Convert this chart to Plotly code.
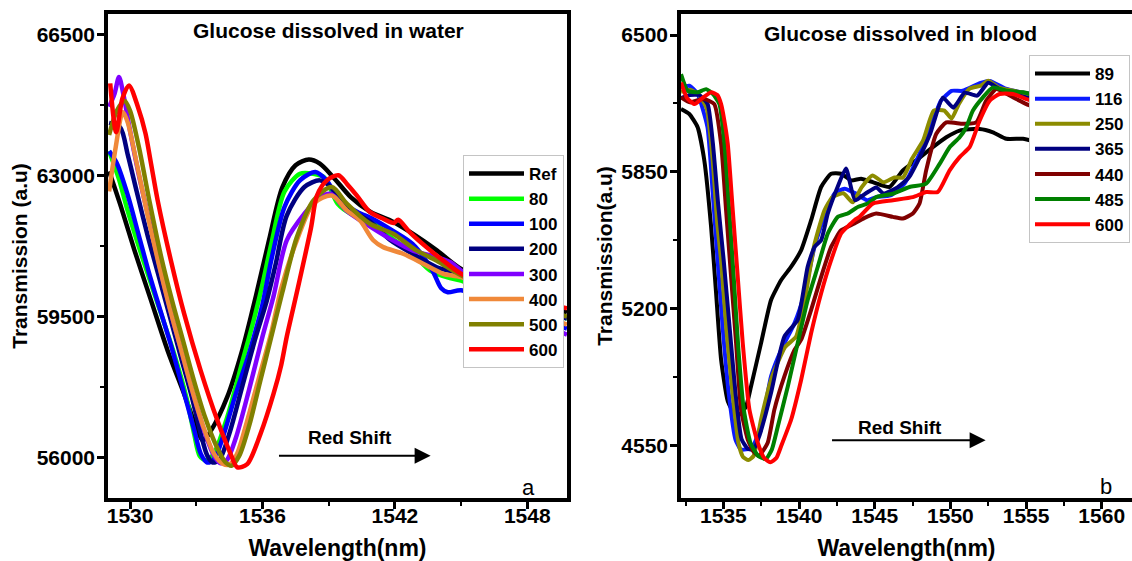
import plotly.graph_objects as go

# ---------------- Panel a: glucose dissolved in water ----------------
w_names = ["Ref", "80", "100", "200", "300", "400", "500", "600"]
w_colors = ["#000000", "#00ff00", "#0000ff", "#000080", "#8000ff", "#f0893a", "#808000", "#ff0000"]

w_ref_x = [1529.05, 1529.6, 1530.2, 1530.95, 1531.7, 1532.45, 1533.0, 1533.3, 1533.7, 1534.4, 1535.1, 1535.7, 1536.3, 1536.9, 1537.5, 1538.1, 1538.6, 1539.2, 1540.0, 1540.9, 1541.8, 1542.7, 1543.9, 1545.0, 1546.5, 1548.0, 1549.8]
w_ref_y = [63100, 62200, 61140, 59900, 58660, 57580, 56750, 56420, 56700, 57500, 58700, 60000, 61400, 62700, 63250, 63390, 63290, 62960, 62460, 62090, 61880, 61590, 61140, 60680, 60300, 59950, 59600]

w_80_x = [1529.05, 1529.5, 1529.85, 1530.45, 1531.2, 1531.95, 1532.55, 1532.9, 1533.15, 1533.45, 1533.8, 1534.4, 1535.1, 1535.6, 1536.0, 1536.4, 1537.0, 1537.7, 1538.3, 1538.8, 1539.4, 1540.0, 1540.9, 1541.8, 1542.8, 1543.6, 1544.5, 1545.0, 1546.5, 1548.0, 1549.8]
w_80_y = [63600, 62900, 62200, 61140, 59900, 58660, 57500, 56600, 56050, 55930, 56100, 57000, 58400, 59400, 60300, 61300, 62600, 63040, 63040, 62950, 62300, 62050, 61880, 61470, 61060, 60640, 60450, 60390, 60050, 59750, 59450]

w_100_x = [1529.05, 1529.4, 1529.9, 1530.4, 1530.9, 1531.4, 1531.9, 1532.4, 1532.9, 1533.2, 1533.5, 1533.8, 1534.2, 1534.8, 1535.4, 1536.0, 1536.4, 1537.0, 1537.7, 1538.4, 1538.9, 1539.5, 1540.3, 1541.0, 1541.9, 1542.8, 1543.7, 1544.1, 1544.4, 1545.0, 1546.5, 1548.0, 1549.8]
w_100_y = [63600, 63300, 62500, 61500, 60500, 59600, 58700, 57700, 56700, 56100, 55880, 55950, 56500, 57600, 58600, 59800, 60900, 62220, 62875, 63080, 62875, 62380, 62090, 61920, 61630, 61300, 60640, 60200, 60100, 60150, 59850, 59550, 59200]

w_200_x = [1529.05, 1529.55, 1529.9, 1530.3, 1530.8, 1531.3, 1531.8, 1532.3, 1532.8, 1533.2, 1533.5, 1533.75, 1534.05, 1534.5, 1535.1, 1535.7, 1536.2, 1536.6, 1537.1, 1537.9, 1538.6, 1539.1, 1539.8, 1540.9, 1541.8, 1542.8, 1543.9, 1545.0, 1546.5, 1548.0, 1549.8]
w_200_y = [64300, 64190, 63500, 62600, 61500, 60500, 59500, 58500, 57500, 56600, 56050, 55880, 55950, 56600, 57800, 59000, 59900, 60800, 62000, 62710, 62875, 62710, 62220, 61840, 61390, 61055, 60720, 60560, 60200, 59800, 59450]

w_300_x = [1529.05, 1529.3, 1529.5, 1529.7, 1530.0, 1530.4, 1530.9, 1531.4, 1531.9, 1532.4, 1532.9, 1533.4, 1533.8, 1534.1, 1534.4, 1534.8, 1535.4, 1536.0, 1536.5, 1537.1, 1537.9, 1538.6, 1539.1, 1539.8, 1540.9, 1541.9, 1542.8, 1543.9, 1544.5, 1545.0, 1546.5, 1548.0, 1549.8]
w_300_y = [64700, 65030, 65440, 65000, 64100, 63000, 61800, 60600, 59500, 58500, 57500, 56600, 56050, 55860, 55950, 56500, 57700, 59000, 60000, 61390, 62050, 62460, 62540, 62130, 61720, 61390, 61140, 60970, 60850, 60640, 60000, 59500, 59050]

w_400_x = [1529.05, 1529.35, 1529.67, 1529.9, 1530.3, 1530.8, 1531.3, 1531.8, 1532.3, 1532.8, 1533.3, 1533.8, 1534.2, 1534.5, 1534.85, 1535.3, 1535.9, 1536.4, 1536.85, 1537.56, 1538.31, 1539.14, 1539.82, 1540.42, 1541.02, 1541.47, 1542.37, 1543.28, 1544.18, 1545.0, 1546.5, 1548.0, 1549.8]
w_400_y = [62600, 63700, 64570, 64300, 63300, 62000, 60800, 59700, 58700, 57700, 56800, 56100, 55850, 55830, 56100, 56900, 58100, 59100, 60200, 61390, 62300, 62500, 62130, 61880, 61390, 61220, 61055, 60810, 60560, 60475, 60100, 59700, 59300]

w_500_x = [1529.05, 1529.4, 1529.75, 1530.0, 1530.4, 1530.9, 1531.4, 1531.9, 1532.4, 1532.9, 1533.4, 1533.9, 1534.3, 1534.6, 1534.95, 1535.4, 1535.9, 1536.4, 1536.9, 1537.56, 1538.31, 1539.14, 1539.82, 1540.87, 1541.92, 1542.97, 1543.88, 1545.0, 1546.5, 1548.0, 1549.8]
w_500_y = [64000, 64600, 64850, 64600, 63700, 62300, 61000, 59900, 58900, 57900, 57000, 56300, 55900, 55800, 56050, 56800, 57900, 59000, 60100, 61470, 62380, 62710, 62300, 61800, 61550, 61140, 60890, 60520, 60150, 59800, 59500]

w_600_x = [1529.1, 1529.37, 1529.65, 1529.95, 1530.36, 1530.7, 1530.95, 1531.25, 1531.85, 1532.45, 1533.2, 1533.96, 1534.56, 1534.86, 1535.31, 1535.91, 1536.5, 1536.85, 1537.1, 1537.6, 1538.2, 1538.47, 1538.92, 1539.44, 1539.82, 1540.27, 1540.87, 1541.47, 1541.95, 1542.15, 1542.67, 1543.43, 1544.18, 1545.0, 1546.5, 1548.0, 1549.8]
w_600_y = [65280, 64070, 64900, 65230, 64690, 64040, 63290, 62380, 60890, 59570, 58160, 56920, 56090, 55760, 55840, 56590, 57580, 58300, 59000, 60200, 61700, 62500, 62875, 63000, 62793, 62503, 62089, 61924, 61820, 61900, 61593, 61220, 60890, 60560, 60200, 59950, 59700]

w_xs = [w_ref_x, w_80_x, w_100_x, w_200_x, w_300_x, w_400_x, w_500_x, w_600_x]
w_ys = [w_ref_y, w_80_y, w_100_y, w_200_y, w_300_y, w_400_y, w_500_y, w_600_y]

# ---------------- Panel b: glucose dissolved in blood ----------------
b_names = ["89", "116", "250", "365", "440", "485", "600"]
b_colors = ["#000000", "#0a1aff", "#8c8c00", "#000080", "#800000", "#008000", "#ff0000"]

b_89_x = [1532.2, 1532.75, 1533.3, 1533.74, 1534.19, 1534.52, 1534.85, 1535.29, 1535.7, 1536.1, 1536.5, 1536.83, 1537.49, 1538.15, 1538.82, 1539.48, 1540.14, 1540.8, 1541.46, 1542.12, 1542.78, 1543.45, 1544.1, 1544.87, 1545.98, 1546.86, 1547.74, 1548.84, 1549.73, 1550.61, 1551.93, 1552.81, 1553.7, 1554.8, 1555.5]
b_89_y = [6149, 6125, 6062, 5904, 5588, 5273, 4957, 4760, 4705, 4700, 4735, 4831, 5036, 5241, 5336, 5399, 5478, 5620, 5778, 5841, 5841, 5809, 5817, 5801, 5778, 5857, 5904, 5967, 6014, 6046, 6054, 6038, 6007, 6007, 5995]

b_116_x = [1532.2, 1532.75, 1533.3, 1533.95, 1534.3, 1534.62, 1534.95, 1535.35, 1535.8, 1536.15, 1536.5, 1536.9, 1537.4, 1537.8, 1538.15, 1538.82, 1539.7, 1540.36, 1541.02, 1541.68, 1542.34, 1543.0, 1543.78, 1544.5, 1545.09, 1546.04, 1546.97, 1547.96, 1548.67, 1549.38, 1550.08, 1550.8, 1552.0, 1552.6, 1553.65, 1554.87, 1555.5]
b_116_y = [6251, 6259, 6220, 6062, 5746, 5430, 5115, 4800, 4578, 4531, 4531, 4540, 4630, 4750, 4878, 5004, 5131, 5273, 5493, 5636, 5746, 5770, 5746, 5715, 5730, 5738, 5794, 5936, 6059, 6188, 6235, 6235, 6273, 6282, 6245, 6226, 6220]

b_250_x = [1532.2, 1532.8, 1533.4, 1533.9, 1534.3, 1534.6, 1534.85, 1535.2, 1535.6, 1536.0, 1536.3, 1536.65, 1537.0, 1537.49, 1538.15, 1538.4, 1539.1, 1539.8, 1540.4, 1541.0, 1541.68, 1542.2, 1542.93, 1543.55, 1544.13, 1544.85, 1545.58, 1546.3, 1546.87, 1547.47, 1548.2, 1548.9, 1549.6, 1550.08, 1550.57, 1551.27, 1552.0, 1552.5, 1553.2, 1554.15, 1555.1, 1555.5]
b_250_y = [6230, 6240, 6215, 6150, 5900, 5600, 5430, 5100, 4800, 4560, 4495, 4480, 4500, 4673, 4862, 4910, 5019, 5066, 5250, 5500, 5667, 5729, 5748, 5705, 5776, 5833, 5800, 5823, 5823, 5913, 5999, 6141, 6141, 6103, 6174, 6245, 6259, 6283, 6250, 6235, 6221, 6215]

b_365_x = [1532.2, 1532.8, 1533.4, 1533.96, 1534.3, 1534.65, 1535.02, 1535.4, 1535.8, 1536.2, 1536.6, 1537.0, 1537.4, 1537.8, 1538.15, 1539.03, 1539.91, 1540.57, 1541.02, 1541.46, 1541.9, 1542.56, 1543.1, 1543.7, 1544.4, 1545.1, 1545.58, 1546.5, 1547.25, 1547.96, 1548.67, 1549.5, 1550.2, 1550.94, 1551.77, 1552.5, 1553.2, 1554.15, 1555.1, 1555.5]
b_365_y = [6200, 6215, 6215, 6172, 5990, 5700, 5430, 5120, 4800, 4580, 4535, 4530, 4600, 4700, 4800, 5067, 5146, 5399, 5493, 5525, 5652, 5780, 5866, 5715, 5747, 5776, 5747, 5776, 5823, 5918, 6032, 6202, 6155, 6226, 6212, 6273, 6245, 6221, 6202, 6195]

b_440_x = [1532.2, 1532.8, 1533.3, 1533.74, 1534.4, 1534.85, 1535.18, 1535.51, 1535.84, 1536.17, 1536.61, 1537.0, 1537.35, 1537.93, 1538.37, 1539.03, 1539.7, 1540.14, 1540.8, 1541.46, 1542.12, 1542.78, 1543.66, 1544.3, 1545.1, 1546.2, 1546.86, 1547.52, 1547.96, 1548.4, 1549.07, 1549.73, 1550.83, 1551.71, 1552.37, 1553.03, 1554.13, 1555.02, 1555.5]
b_440_y = [6204, 6180, 6190, 6196, 6172, 5983, 5667, 5351, 5036, 4720, 4578, 4520, 4500, 4563, 4720, 4878, 5004, 5052, 5194, 5351, 5493, 5572, 5604, 5630, 5652, 5636, 5628, 5652, 5699, 5857, 6031, 6085, 6078, 6085, 6188, 6243, 6204, 6172, 6160]

b_485_x = [1532.2, 1532.64, 1533.3, 1533.86, 1534.3, 1534.74, 1535.07, 1535.4, 1535.7, 1536.0, 1536.35, 1536.8, 1537.3, 1537.8, 1538.2, 1538.6, 1539.26, 1539.91, 1540.57, 1541.24, 1541.9, 1542.56, 1543.22, 1543.88, 1544.54, 1545.1, 1546.2, 1547.3, 1548.4, 1549.29, 1549.95, 1550.61, 1551.05, 1551.49, 1552.15, 1552.81, 1553.7, 1554.8, 1555.5]
b_485_y = [6314, 6235, 6228, 6243, 6220, 6172, 5983, 5650, 5330, 5000, 4720, 4560, 4500, 4485, 4530, 4641, 4831, 5036, 5241, 5399, 5557, 5636, 5652, 5683, 5699, 5730, 5746, 5778, 5794, 5888, 5967, 6014, 6062, 6141, 6204, 6251, 6235, 6228, 6215]

b_600_x = [1532.2, 1532.6, 1533.1, 1533.6, 1534.19, 1534.6, 1534.85, 1535.05, 1535.29, 1535.62, 1535.95, 1536.28, 1536.72, 1537.27, 1537.7, 1538.1, 1538.5, 1538.82, 1539.48, 1540.14, 1540.8, 1541.46, 1542.12, 1542.78, 1543.66, 1544.0, 1544.87, 1546.2, 1547.52, 1548.4, 1549.17, 1549.95, 1550.61, 1551.27, 1551.93, 1552.6, 1553.25, 1554.13, 1555.02, 1555.5]
b_600_y = [6275, 6200, 6172, 6200, 6228, 6215, 6172, 6100, 5983, 5667, 5351, 5036, 4720, 4563, 4490, 4470, 4490, 4547, 4673, 4862, 5084, 5273, 5430, 5557, 5620, 5636, 5699, 5715, 5730, 5754, 5754, 5857, 5920, 5967, 6093, 6188, 6220, 6220, 6196, 6185]

b_xs = [b_89_x, b_116_x, b_250_x, b_365_x, b_440_x, b_485_x, b_600_x]
b_ys = [b_89_y, b_116_y, b_250_y, b_365_y, b_440_y, b_485_y, b_600_y]

# tick labels
a_xticks = [1530, 1536, 1542, 1548]
a_yticks = [56000, 59500, 63000, 66500]
b_xticks = [1535, 1540, 1545, 1550, 1555, 1560]
b_yticks = [4550, 5200, 5850, 6500]

FONT = "Liberation Sans, Arial, sans-serif"
W, H = 1132, 561
TOP, BOT = 14, 498
PH = BOT - TOP

def py2paper(py):
    return (BOT - py) / PH

fig = go.Figure()
for name, col, xs, ys in zip(w_names, w_colors, w_xs, w_ys):
    fig.add_trace(go.Scatter(x=xs, y=ys, mode="lines", name=name,
                             line=dict(color=col, width=4.5, shape="spline", smoothing=0.8),
                             xaxis="x", yaxis="y", legend="legend"))
for name, col, xs, ys in zip(b_names, b_colors, b_xs, b_ys):
    fig.add_trace(go.Scatter(x=xs, y=ys, mode="lines", name=name,
                             line=dict(color=col, width=4, shape="spline", smoothing=0.5),
                             xaxis="x2", yaxis="y2", legend="legend2"))

tickfont = dict(family=FONT, size=21, color="black", weight="bold")
xtitlefont = dict(family=FONT, size=23, color="black", weight="bold")
ytitlefont = dict(family=FONT, size=21, color="black", weight="bold")

def axis_common():
    return dict(showline=True, linecolor="black", linewidth=3.5, ticks="outside",
                ticklen=7, tickwidth=3, tickcolor="black", showgrid=False, zeroline=False,
                tickfont=tickfont, automargin=False, tickangle=0)

xa = axis_common()
xa.update(domain=[108 / W, 567 / W], range=[1529.0, 1549.8], tickmode="array",
          tickvals=a_xticks, ticktext=[str(v) for v in a_xticks], mirror=True, anchor="y",
          ticklabelstandoff=-11,
          minor=dict(ticks="outside", ticklen=4, tickwidth=2, tickcolor="black", dtick=3, tick0=1530),
          title=dict(text="Wavelength(nm)", font=xtitlefont, standoff=17))
ya = axis_common()
ya.update(domain=[0, 1], range=[55000, 67000], tickmode="array",
          tickvals=a_yticks, ticktext=[str(v) for v in a_yticks], mirror=True, anchor="x",
          ticklabelstandoff=-2,
          minor=dict(ticks="outside", ticklen=4, tickwidth=2, tickcolor="black", dtick=1750, tick0=56000),
          title=dict(text="Transmission (a.u)", font=ytitlefont, standoff=4))
xb = axis_common()
xb.update(domain=[681 / W, 1.0], range=[1532.2, 1562.0], tickmode="array",
          tickvals=b_xticks, ticktext=[str(v) for v in b_xticks], mirror=True, anchor="y2",
          ticklabelstandoff=-11,
          minor=dict(ticks="outside", ticklen=4, tickwidth=2, tickcolor="black", dtick=2.5, tick0=1535),
          title=dict(text="Wavelength(nm)", font=xtitlefont, standoff=17))
yb = axis_common()
yb.update(domain=[0, 1], range=[4300, 6600], tickmode="array",
          tickvals=b_yticks, ticktext=[str(v) for v in b_yticks], mirror=False, anchor="x2",
          ticklabelstandoff=-2,
          minor=dict(ticks="outside", ticklen=4, tickwidth=2, tickcolor="black", dtick=325, tick0=4550),
          title=dict(text="Transmission(a.u)", font=ytitlefont, standoff=4))

legend_common = dict(bgcolor="white", bordercolor="#c4c4c4", borderwidth=1,
                     font=dict(family=FONT, size=17, color="black", weight="bold"),
                     itemwidth=55, tracegroupgap=0, xref="paper", yref="paper",
                     xanchor="left", yanchor="top", itemclick=False)

anns = []
anns.append(dict(x=1538.98, y=66598, xref="x", yref="y", text="<b>Glucose dissolved in water</b>",
                 showarrow=False, font=dict(family=FONT, size=21, color="black")))
anns.append(dict(x=1546.71, y=6505, xref="x2", yref="y2", text="<b>Glucose dissolved in blood</b>",
                 showarrow=False, font=dict(family=FONT, size=21, color="black")))
anns.append(dict(x=1539.97, y=56496, xref="x", yref="y", text="<b>Red Shift</b>",
                 showarrow=False, font=dict(family=FONT, size=19, color="black")))
anns.append(dict(x=1546.64, y=4635, xref="x2", yref="y2", text="<b>Red Shift</b>",
                 showarrow=False, font=dict(family=FONT, size=19, color="black")))
anns.append(dict(x=1543.62, y=56050, ax=1536.68, ay=56050, xref="x", yref="y", axref="x", ayref="y",
                 text="", showarrow=True, arrowhead=2, arrowsize=1.6, arrowwidth=2, arrowcolor="black"))
anns.append(dict(x=1552.33, y=4574, ax=1542.08, ay=4574, xref="x2", yref="y2", axref="x2", ayref="y2",
                 text="", showarrow=True, arrowhead=2, arrowsize=1.6, arrowwidth=2, arrowcolor="black"))
anns.append(dict(x=1548.04, y=55255, xref="x", yref="y", text="a", showarrow=False,
                 font=dict(family=FONT, size=22, color="black")))
anns.append(dict(x=1560.26, y=4356, xref="x2", yref="y2", text="b", showarrow=False,
                 font=dict(family=FONT, size=22, color="black")))

fig.update_layout(
    width=W, height=H, autosize=False,
    margin=dict(l=0, r=0, t=TOP, b=H - BOT, autoexpand=False),
    paper_bgcolor="white", plot_bgcolor="white",
    xaxis=xa, yaxis=ya, xaxis2=xb, yaxis2=yb,
    legend=dict(x=463 / W, y=py2paper(155), **legend_common),
    legend2=dict(x=1029 / W, y=py2paper(55), **legend_common),
    annotations=anns,
    showlegend=True,
)

fig.write_html("out.html")
